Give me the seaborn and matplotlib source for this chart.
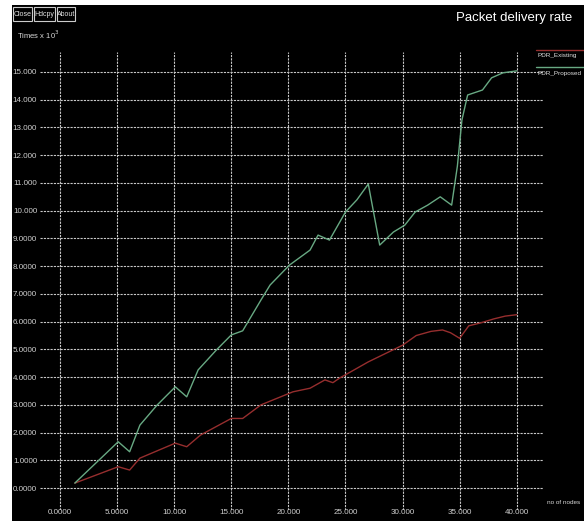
import matplotlib
matplotlib.use("Agg")
import matplotlib.pyplot as plt
from matplotlib.patches import Rectangle
from matplotlib.lines import Line2D
import seaborn as sns
import pandas as pd

# ---- data (axis units as displayed) ----
x_proposed = [1.3, 5.1, 6.1, 7.0, 8.5, 10.1, 11.1, 12.1, 13.7, 15.0, 16.0, 17.6,
              18.4, 20.1, 21.9, 22.6, 23.6, 25.0, 26.0, 27.0, 28.0, 29.2, 30.2,
              31.1, 32.2, 33.3, 34.3, 34.8, 35.2, 35.7, 37.0, 37.8, 38.8, 40.0]
y_proposed = [0.18, 1.67, 1.31, 2.27, 2.99, 3.65, 3.29, 4.26, 4.98, 5.52, 5.67, 6.78,
              7.32, 8.04, 8.58, 9.12, 8.94, 9.95, 10.39, 10.96, 8.76, 9.23, 9.48,
              9.95, 10.2, 10.5, 10.2, 11.6, 13.27, 14.17, 14.35, 14.79, 14.97, 15.04]
x_existing = [1.3, 5.1, 6.1, 7.0, 10.1, 11.1, 12.3, 15.0, 16.0, 17.6, 20.4, 21.9,
              23.2, 23.9, 24.5, 25.5, 27.0, 28.5, 30.0, 31.2, 32.5, 33.5, 34.2,
              35.0, 35.8, 36.8, 38.0, 39.0, 40.0]
y_existing = [0.18, 0.77, 0.65, 1.08, 1.62, 1.49, 1.91, 2.51, 2.51, 3.0, 3.47, 3.6,
              3.9, 3.8, 3.97, 4.2, 4.55, 4.85, 5.15, 5.5, 5.65, 5.7, 5.6,
              5.4, 5.85, 5.95, 6.1, 6.2, 6.25]
x_ticks = [0, 5, 10, 15, 20, 25, 30, 35, 40]
x_labels = ["0.0000", "5.0000", "10.000", "15.000", "20.000", "25.000", "30.000", "35.000", "40.000"]
y_ticks = list(range(0, 16))
y_labels = ["0.0000", "1.0000", "2.0000", "3.0000", "4.0000", "5.0000", "6.0000", "7.0000",
            "8.0000", "9.0000", "10.000", "11.000", "12.000", "13.000", "14.000", "15.000"]
series_names = ["PDR_Existing", "PDR_Proposed"]
colors = {"PDR_Existing": "#962e2e", "PDR_Proposed": "#68a983"}

sns.set_style("dark")
plt.rcParams['font.family'] = ['Liberation Sans', 'DejaVu Sans']

df = pd.concat([
    pd.DataFrame({"x": x_existing, "y": y_existing, "series": series_names[0]}),
    pd.DataFrame({"x": x_proposed, "y": y_proposed, "series": series_names[1]}),
])

fig = plt.figure(figsize=(5.84, 5.21), dpi=100)
fig.patch.set_facecolor("white")
fig.add_artist(Rectangle((12 / 584, 0), 1 - 12 / 584, 1 - 5 / 521,
                         transform=fig.transFigure, facecolor="black", edgecolor="none", zorder=0))

ax = fig.add_axes([40 / 584, 11 / 521, (543 - 40) / 584, (510 - 52) / 521])
ax.set_facecolor("black")

sns.lineplot(data=df, x="x", y="y", hue="series", palette=colors, ax=ax,
             legend=False, linewidth=1.0, estimator=None, sort=False, zorder=3)

ax.set_xlim(-1.75, 42.3)
ax.set_ylim(-0.79, 15.72)
ax.set_xticks(x_ticks)
ax.set_xticklabels(x_labels)
ax.set_yticks(y_ticks)
ax.set_yticklabels(y_labels)
ax.tick_params(axis="both", length=0, colors="#d0d0d0", labelsize=5.8)
ax.tick_params(axis="y", pad=2)
ax.tick_params(axis="x", pad=-1)
ax.grid(True, color="#c8c8c8", linestyle=(0, (2, 1)), linewidth=0.8, zorder=1)
for s in ax.spines.values():
    s.set_visible(False)
ax.set_xlabel("")
ax.set_ylabel("")

# header texts
fig.text(514 / 584, 1 - 18 / 521, "Packet delivery rate", color="white", fontsize=9.5,
         ha="center", va="center")
fig.text(17 / 584, 1 - 35 / 521, "Times x 10$^3$", color="#d8d8d8", fontsize=5.5, ha="left", va="center")
for label, x0, x1 in [("Close", 13, 32), ("Hdcpy", 34, 55), ("About", 57, 75)]:
    fig.add_artist(Rectangle((x0 / 584, 1 - 21 / 521), (x1 - x0) / 584, 14 / 521,
                             transform=fig.transFigure, facecolor="black",
                             edgecolor="#cccccc", linewidth=0.8))
    fig.text((x0 + x1) / 2 / 584, 1 - 14 / 521, label, color="#e0e0e0", fontsize=5,
             ha="center", va="center")

# legend (xgraph style)
for name, ly, ty in [(series_names[0], 50, 56), (series_names[1], 67, 73)]:
    fig.add_artist(Line2D([536 / 584, 1.0], [1 - ly / 521, 1 - ly / 521],
                          transform=fig.transFigure, color=colors[name], linewidth=1.0))
    fig.text(537 / 584, 1 - ty / 521, name, color="#e0e0e0", fontsize=4.6, ha="left", va="center")

fig.text(547 / 584, 1 - 503 / 521, "no of nodes", color="#d8d8d8", fontsize=4.6, ha="left", va="center")

fig.savefig("out.png", dpi=100, facecolor=fig.get_facecolor())
